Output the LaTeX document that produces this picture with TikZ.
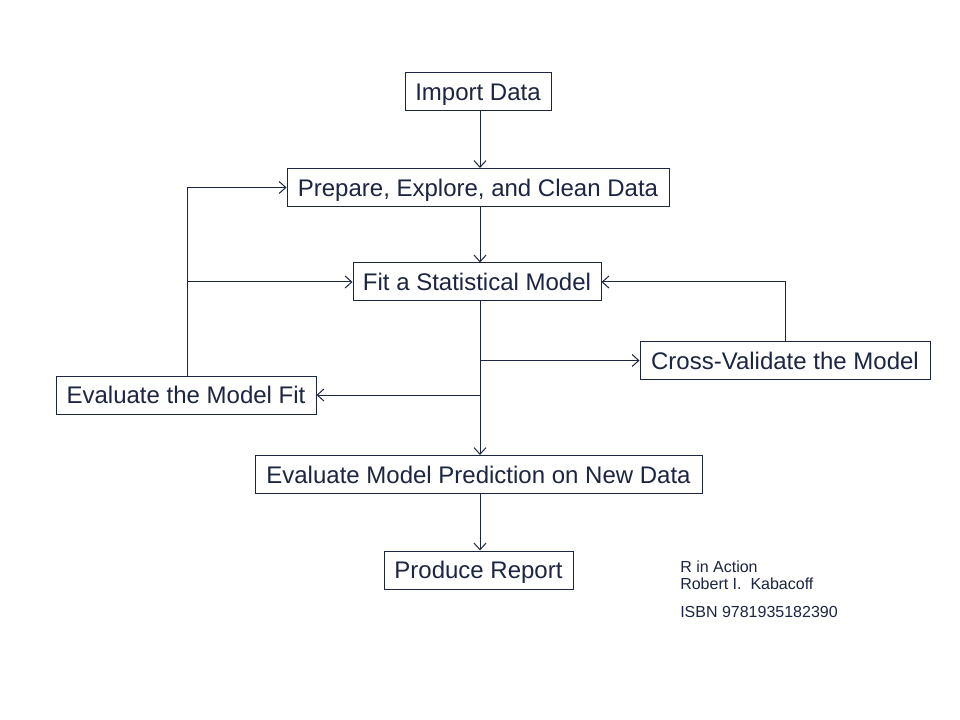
\documentclass[tikz,border=0pt]{standalone}
\usepackage{fontspec}
\setmainfont{Liberation Sans}
\usetikzlibrary{arrows.meta}
\definecolor{navy}{HTML}{1C2541}
\begin{document}
\begin{tikzpicture}[x=0.75pt,y=-0.75pt,
  box/.style={draw=navy,line width=0.75pt,text=navy,font=\fontsize{18}{21}\selectfont,inner sep=0pt,minimum height=28.5pt,text height=13pt,text depth=0pt},
  conn/.style={draw=navy,line width=0.75pt},
  arr/.style={conn,-{Straight Barb[length=5pt,width=9pt,line width=0.75pt]}},
  note/.style={text=navy,font=\fontsize{12}{14}\selectfont,anchor=base west,inner sep=0pt}]
\useasboundingbox[fill=white] (0,0) rectangle (960,720);
\node[box,minimum width=146*0.75pt] (imp) at (478,92) {Import Data};
\node[box,minimum width=382*0.75pt] (prep) at (478,187.5) {Prepare, Explore, and Clean Data};
\node[box,minimum width=248*0.75pt] (fit) at (477,282) {Fit a Statistical Model};
\node[box,minimum width=290*0.75pt] (cv) at (785,360.5) {Cross-Validate the Model};
\node[box,minimum width=260*0.75pt] (evf) at (186,395) {Evaluate the Model Fit};
\node[box,minimum width=447*0.75pt] (pred) at (478.5,474.5) {Evaluate Model Prediction on New Data};
\node[box,minimum width=189*0.75pt] (rep) at (478.5,570) {Produce Report};
\coordinate (mx) at (480,0);
\coordinate (bcv) at (480,360.5);
\coordinate (bev) at (480,395);
\coordinate (bl) at (187,282);
\draw[arr] (imp.south -| mx) -- (prep.north -| mx);
\draw[arr] (prep.south -| mx) -- (fit.north -| mx);
\draw[arr] (fit.south -| mx) -- (pred.north -| mx);
\draw[arr] (pred.south -| mx) -- (rep.north -| mx);
\draw[arr] (bcv) -- (cv.west);
\draw[arr] (bev) -- (evf.east);
\draw[arr] (cv.north) |- (fit.east);
\draw[arr] (evf.north -| bl) |- (prep.west);
\draw[arr] (bl) -- (fit.west);
\node[note] (n1) at (680,572) {R in Action};
\node[note] (n2) at (680,589) {Robert I.\ \ Kabacoff};
\node[note] (n3) at (680,617) {ISBN 9781935182390};
\end{tikzpicture}
\end{document}
